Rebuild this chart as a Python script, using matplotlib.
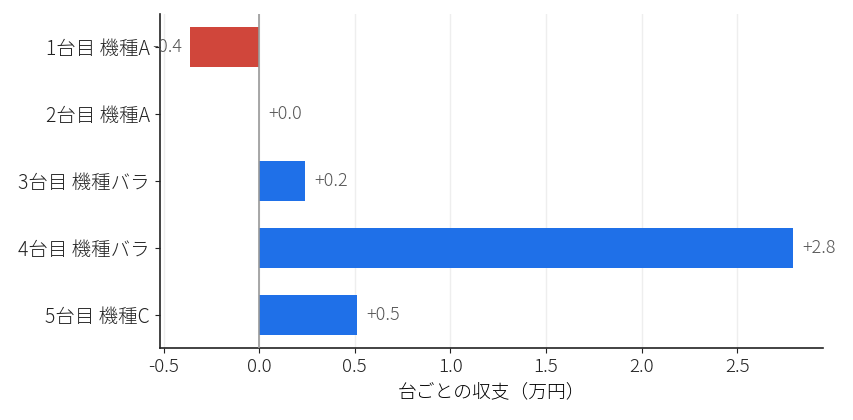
import numpy as np
import matplotlib.pyplot as plt

plt.rcParams['font.family'] = ['Noto Sans CJK JP', 'DejaVu Sans']

labels = ['1台目 機種A', '2台目 機種A', '3台目 機種バラ', '4台目 機種バラ', '5台目 機種C']
profits = [-0.36, 0.0, 0.24, 2.79, 0.51]

colors = ['#d0463b' if v < 0 else '#1f70e8' for v in profits]

fig = plt.figure(figsize=(8.54, 4.2), dpi=100)
ax = fig.add_axes([0.187, 0.171, 0.777, 0.796])

y = np.arange(len(labels))
ax.barh(y, profits, height=0.6, color=colors, zorder=2)
ax.axvline(0, color='#999999', linewidth=1.2, zorder=3)

for yi, v in zip(y, profits):
    txt = f'{v:+.1f}'
    if v < 0:
        ax.text(v - 0.04, yi, txt, ha='right', va='center', fontsize=13,
                color='#555555', fontweight='light')
    else:
        ax.text(v + 0.05, yi, txt, ha='left', va='center', fontsize=13,
                color='#555555', fontweight='light')

ax.set_yticks(y)
ax.set_yticklabels(labels, fontsize=14, fontweight='light')
ax.invert_yaxis()
ax.set_ylim(4.5, -0.5)
ax.set_xlim(-0.52, 2.95)
ax.set_xticks([-0.5, 0.0, 0.5, 1.0, 1.5, 2.0, 2.5])
ax.set_xticklabels(['-0.5', '0.0', '0.5', '1.0', '1.5', '2.0', '2.5'],
                   fontsize=13.5, fontweight='light')
ax.set_xlabel('台ごとの収支（万円）', fontsize=13.5, labelpad=5, fontweight='light')
ax.tick_params(axis='both', colors='#222222', labelcolor='#222222')

ax.grid(axis='x', color='#eeeeee', linewidth=1, zorder=0)
ax.spines['top'].set_visible(False)
ax.spines['right'].set_visible(False)
for s in ['left', 'bottom']:
    ax.spines[s].set_linewidth(1.2)
    ax.spines[s].set_color('#222222')

fig.savefig('out.png', dpi=100)
